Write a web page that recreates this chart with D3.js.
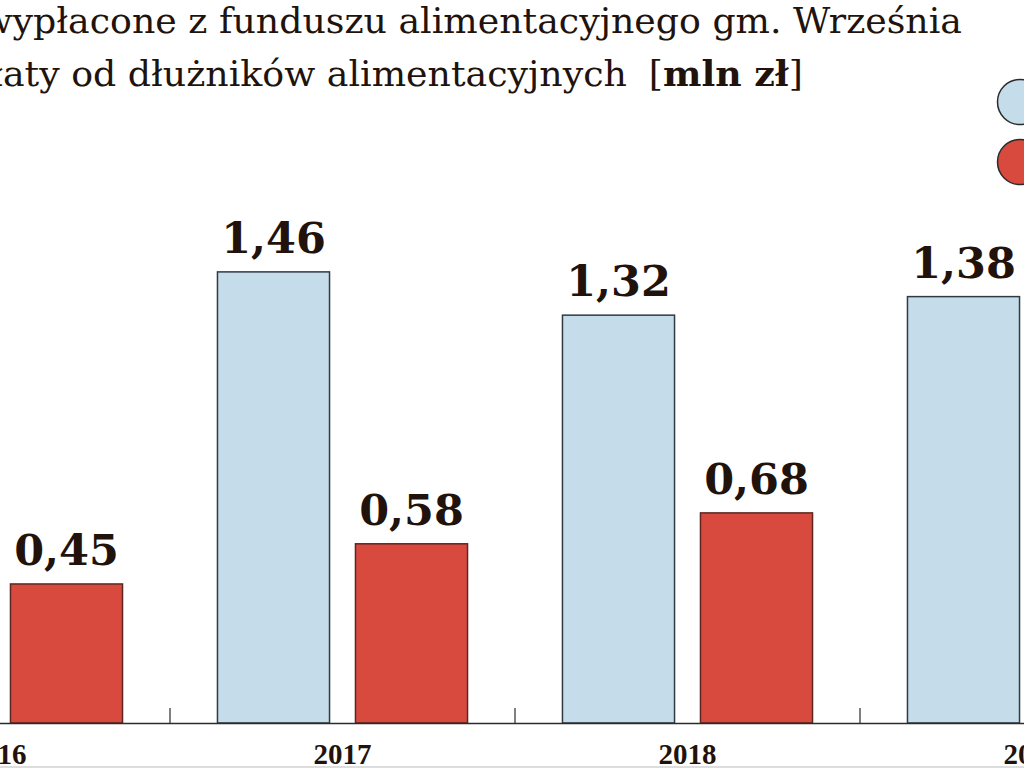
<!DOCTYPE html>
<html>
<head>
<meta charset="utf-8">
<script src="https://cdn.jsdelivr.net/npm/d3@7"></script>
<style>
    html, body { margin: 0; padding: 0; background: #fff; overflow: hidden; }
    svg { display: block; }
    .title { font-family: "DejaVu Serif", serif; fill: #21130c; }
    .value { font-family: "DejaVu Serif", serif; font-weight: bold; fill: #21130c; }
    .x.axis text { font-family: "Liberation Serif", serif; font-weight: bold; fill: #21130c; }
</style>
</head>
<body>
<script>
// years on the x axis (2016 and 2019 are cut by the frame)
const years = ["2016", "2017", "2018", "2019"];
const seriesKeys = ["wyplacone", "splaty"];
// mln zł, null = value lies outside the visible frame
const wyplacone = [null, 1.46, 1.32, 1.38];
const splaty = [0.45, 0.58, 0.68, null];
const titleLines = [
    "Świadczenia wypłacone z funduszu alimentacyjnego gm. Września",
    "Wpłaty od dłużników alimentacyjnych"
];
const unitLabel = "mln zł";

const Chart = (function () {
    const W = 1024, H = 768;
    const baseY = 723;

    const colorFill = { wyplacone: "#c5dcea", splaty: "#d84a3e" };
    const colorStroke = { wyplacone: "#2f3a42", splaty: "#5e2620" };

    const svg = d3.select('body').append('svg')
        .attr('width', W)
        .attr('height', H);

    // one band per year, the frame shows only part of 2016 and 2019
    const x = d3.scaleBand()
        .domain(years)
        .range([-175, 1205]);
    const xInner = d3.scaleBand()
        .domain(seriesKeys)
        .range([0, x.bandwidth()])
        .paddingInner(0.188)
        .paddingOuter(0.344);
    const y = d3.scaleLinear()
        .domain([0, 2.34])
        .range([baseY, 0]);

    const rows = years.map((yr, i) => ({ year: yr, wyplacone: wyplacone[i], splaty: splaty[i] }));

    // title (its left part runs out of the frame, like in the print)
    const title = svg.append('g').attr('class', 'header');
    title.append('text')
        .attr('class', 'title')
        .attr('x', 962).attr('y', 33)
        .attr('text-anchor', 'end')
        .style('font-size', '36.3px')
        .text(titleLines[0]);
    const t2 = title.append('text')
        .attr('class', 'title')
        .attr('x', 803).attr('y', 86)
        .attr('text-anchor', 'end')
        .style('font-size', '36.3px');
    t2.append('tspan').text(titleLines[1]);
    t2.append('tspan').attr('dx', 22).text('[');
    t2.append('tspan').style('font-weight', 'bold').text(unitLabel);
    t2.append('tspan').text(']');

    // legend markers (labels lie to the right of the frame)
    svg.selectAll('.legend')
        .data(seriesKeys)
        .enter().append('circle')
        .attr('class', 'legend')
        .attr('cx', 1020)
        .attr('cy', (d, i) => 102 + i * 60)
        .attr('r', 22.5)
        .style('fill', d => colorFill[d])
        .style('stroke', '#2b2b2b')
        .style('stroke-width', 1.5);

    // bars
    const groups = svg.selectAll('.year')
        .data(rows)
        .enter().append('g')
        .attr('class', 'year')
        .attr('transform', d => `translate(${x(d.year)},0)`);

    const cells = groups.selectAll('.cell')
        .data(d => seriesKeys.filter(k => d[k] != null).map(k => ({ key: k, value: d[k] })))
        .enter().append('g')
        .attr('class', 'cell');

    cells.append('rect')
        .attr('x', d => xInner(d.key))
        .attr('width', xInner.bandwidth())
        .attr('y', d => y(d.value))
        .attr('height', d => baseY - y(d.value))
        .style('fill', d => colorFill[d.key])
        .style('stroke', d => colorStroke[d.key])
        .style('stroke-width', 1.5);

    cells.append('text')
        .attr('class', 'value')
        .attr('x', d => xInner(d.key) + xInner.bandwidth() / 2)
        .attr('y', d => y(d.value) - 19)
        .attr('text-anchor', 'middle')
        .style('font-size', '43px')
        .text(d => d3.format('.2f')(d.value).replace('.', ','));

    // axis: baseline + year labels
    const xAxis = d3.axisBottom(x)
        .tickSize(0)
        .tickSizeOuter(0)
        .tickPadding(20);
    const axisG = svg.append('g')
        .attr('class', 'x axis')
        .attr('transform', `translate(0, ${baseY})`)
        .call(xAxis);
    axisG.select('.domain')
        .style('stroke', '#2b2b2b')
        .style('stroke-width', 1.5);
    axisG.selectAll('text').style('font-size', '29px');

    // short separators between the years
    axisG.selectAll('.sep')
        .data(years)
        .enter().append('line')
        .attr('class', 'sep')
        .attr('x1', d => x(d)).attr('x2', d => x(d))
        .attr('y1', -15).attr('y2', 0)
        .style('stroke', '#2b2b2b')
        .style('stroke-width', 1.2);

    // thin frame line at the bottom
    svg.append('line')
        .attr('x1', 0).attr('x2', W)
        .attr('y1', 767).attr('y2', 767)
        .style('stroke', '#d2d2d2')
        .style('stroke-width', 1.5);

    return { svg: svg };
})();
</script>
</body>
</html>
